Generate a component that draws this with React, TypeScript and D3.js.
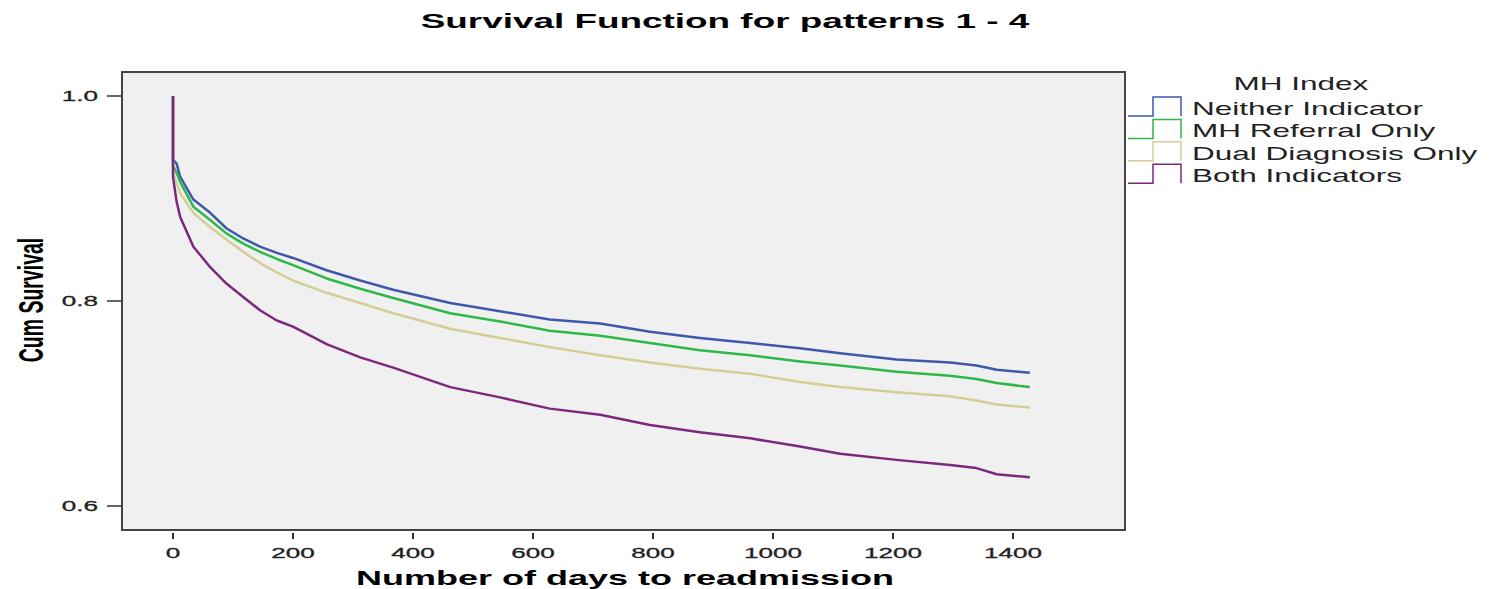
import { useEffect, useRef } from 'react';
import * as d3 from 'd3';

// Kaplan-Meier estimates (day 0 appears twice for the initial drop)
const days = [0, 0, 6, 12, 34, 62, 89, 117, 145, 173, 200, 256, 312, 367, 462, 545, 628, 712, 795, 878, 962, 1045, 1112, 1206, 1295, 1339, 1373, 1428];
const neither = [1.0, 0.938, 0.934, 0.921, 0.899, 0.886, 0.871, 0.861, 0.853, 0.847, 0.842, 0.830, 0.820, 0.811, 0.798, 0.790, 0.782, 0.778, 0.770, 0.764, 0.759, 0.754, 0.749, 0.743, 0.740, 0.737, 0.733, 0.730];
const mhReferral = [1.0, 0.932, 0.925, 0.916, 0.892, 0.879, 0.866, 0.856, 0.848, 0.841, 0.835, 0.822, 0.812, 0.803, 0.788, 0.780, 0.771, 0.766, 0.759, 0.752, 0.747, 0.741, 0.737, 0.731, 0.727, 0.724, 0.720, 0.716];
const dualDiagnosis = [1.0, 0.926, 0.915, 0.905, 0.886, 0.872, 0.860, 0.848, 0.837, 0.828, 0.820, 0.808, 0.798, 0.788, 0.773, 0.764, 0.755, 0.747, 0.740, 0.734, 0.729, 0.721, 0.716, 0.711, 0.707, 0.703, 0.699, 0.696];
const bothIndicators = [1.0, 0.921, 0.897, 0.882, 0.853, 0.833, 0.817, 0.804, 0.791, 0.781, 0.775, 0.758, 0.745, 0.735, 0.716, 0.706, 0.695, 0.689, 0.679, 0.672, 0.666, 0.658, 0.651, 0.645, 0.640, 0.637, 0.631, 0.628];

const seriesNames = ['Neither Indicator', 'MH Referral Only', 'Dual Diagnosis Only', 'Both Indicators'];
const seriesValues = [neither, mhReferral, dualDiagnosis, bothIndicators];
const colors = ['#3e58ac', '#2eb848', '#d3ce97', '#7c287d'];
const xTicks = [0, 200, 400, 600, 800, 1000, 1200, 1400];
const yTicks = [0.6, 0.8, 1.0];

export default function App() {
  const svgRef = useRef<SVGSVGElement>(null);

  useEffect(() => {
    const width = 1489;
    const height = 589;
    const frame = { left: 122, top: 72, right: 1125, bottom: 530 };
    const font = '"Liberation Sans", Arial, sans-serif';
    const sx = 1.8; // the original render is stretched horizontally

    const svg = d3.select(svgRef.current);
    svg.selectAll('*').remove();
    svg.attr('width', width).attr('height', height);

    const x = d3.scaleLinear().domain([0, 1400]).range([173, 1013]);
    const y = d3.scaleLinear().domain([0.6, 1.0]).range([506, 96]);

    svg.append('rect').attr('width', width).attr('height', height).attr('fill', '#fff');

    // title
    svg.append('text')
      .attr('transform', `translate(725,28) scale(${sx},1)`)
      .attr('text-anchor', 'middle')
      .attr('font-family', font)
      .attr('font-weight', 'bold')
      .attr('font-size', 20.5)
      .attr('fill', '#000')
      .text('Survival Function for patterns 1 - 4');

    // plot frame
    svg.append('rect')
      .attr('x', frame.left)
      .attr('y', frame.top)
      .attr('width', frame.right - frame.left)
      .attr('height', frame.bottom - frame.top)
      .attr('fill', '#f0f0f0')
      .attr('stroke', '#444')
      .attr('stroke-width', 2);

    // y axis
    const yAxis = svg.append('g');
    yTicks.forEach(t => {
      yAxis.append('line')
        .attr('x1', 107).attr('x2', frame.left)
        .attr('y1', y(t)).attr('y2', y(t))
        .attr('stroke', '#333').attr('stroke-width', 1.5);
      yAxis.append('text')
        .attr('transform', `translate(98,${y(t) + 5}) scale(${sx},1)`)
        .attr('text-anchor', 'end')
        .attr('font-family', font)
        .attr('font-size', 14.5)
        .attr('fill', '#222')
        .attr('stroke', '#222')
        .attr('stroke-width', 0.3)
        .text(d3.format('.1f')(t));
    });

    // x axis
    const xAxis = svg.append('g');
    xTicks.forEach(t => {
      xAxis.append('line')
        .attr('x1', x(t)).attr('x2', x(t))
        .attr('y1', frame.bottom + 3).attr('y2', frame.bottom + 9)
        .attr('stroke', '#333').attr('stroke-width', 2);
      xAxis.append('text')
        .attr('transform', `translate(${x(t)},558) scale(${sx},1)`)
        .attr('text-anchor', 'middle')
        .attr('font-family', font)
        .attr('font-size', 14.5)
        .attr('fill', '#222')
        .attr('stroke', '#222')
        .attr('stroke-width', 0.3)
        .text(String(t));
    });

    svg.append('text')
      .attr('transform', `translate(625,585) scale(${sx},1)`)
      .attr('text-anchor', 'middle')
      .attr('font-family', font)
      .attr('font-weight', 'bold')
      .attr('font-size', 20)
      .attr('fill', '#000')
      .text('Number of days to readmission');

    svg.append('text')
      .attr('transform', 'translate(43,300) rotate(-90) scale(1,1.8)')
      .attr('text-anchor', 'middle')
      .attr('font-family', font)
      .attr('font-weight', 'bold')
      .attr('font-size', 19.5)
      .attr('fill', '#000')
      .text('Cum Survival');

    // survival curves
    const line = d3.line<number>()
      .x((_, i) => x(days[i]))
      .y(d => y(d));

    seriesValues.forEach((vals, i) => {
      svg.append('path')
        .datum(vals)
        .attr('fill', 'none')
        .attr('stroke', colors[i])
        .attr('stroke-width', 2.5)
        .attr('stroke-linejoin', 'round')
        .attr('d', line);
    });

    // legend
    const legend = svg.append('g');
    legend.append('text')
      .attr('transform', `translate(1301,90) scale(${sx},1)`)
      .attr('text-anchor', 'middle')
      .attr('font-family', font)
      .attr('font-size', 17.5)
      .attr('fill', '#222')
      .text('MH Index');

    seriesNames.forEach((name, i) => {
      const top = 97 + i * 22.4;
      const bottom = top + 19;
      legend.append('path')
        .attr('d', `M1128,${bottom}H1153V${top}H1181V${bottom}`)
        .attr('fill', 'none')
        .attr('stroke', colors[i])
        .attr('stroke-width', 1.5);
      legend.append('text')
        .attr('transform', `translate(1192,${bottom - 1}) scale(${sx},1)`)
        .attr('font-family', font)
        .attr('font-size', 17.5)
        .attr('fill', '#222')
        .text(name);
    });
  }, []);

  return (
    <svg
      ref={svgRef}
      style={{ position: 'absolute', left: 0, top: 0, display: 'block' }}
    />
  );
}
